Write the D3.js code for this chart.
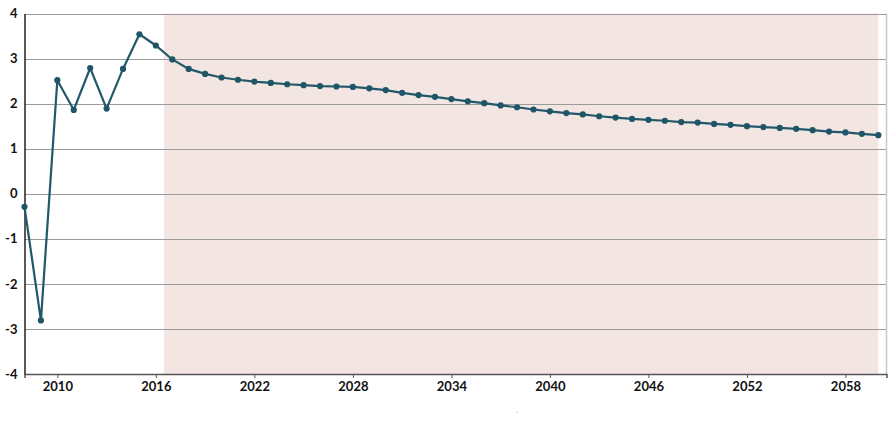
<!DOCTYPE html>
<html><head><meta charset="utf-8">
<script src="https://cdn.jsdelivr.net/npm/d3@7"></script>
<style>body{margin:0;background:#fff;} svg{display:block;}</style>
</head><body>
<svg id="chart" width="895" height="428"></svg>
<script>
const years = d3.range(2008, 2061);
const values = [
  -0.29, -2.81, 2.52, 1.86, 2.79, 1.89, 2.77, 3.54, 3.29, 2.98,
  2.77, 2.66, 2.58, 2.53, 2.49, 2.46, 2.43, 2.41, 2.39, 2.38,
  2.37, 2.34, 2.30, 2.24, 2.19, 2.15, 2.10, 2.05, 2.01, 1.96,
  1.92, 1.87, 1.83, 1.79, 1.76, 1.72, 1.69, 1.66, 1.64, 1.62,
  1.59, 1.58, 1.55, 1.53, 1.50, 1.48, 1.46, 1.44, 1.41, 1.38,
  1.36, 1.33, 1.30
];
const xTicks = [2010, 2016, 2022, 2028, 2034, 2040, 2046, 2052, 2058];
const yTicks = [-4, -3, -2, -1, 0, 1, 2, 3, 4];
const forecastStart = 2016.5, forecastEnd = 2060;

const svg = d3.select("#chart");
const mLeft = 24.5, mRight = 886.5, mTop = 13.5, mBottom = 374;
const x = d3.scaleLinear().domain([2008, 2060.5]).range([mLeft, mRight]);
const y = d3.scaleLinear().domain([-4, 4]).range([mBottom, mTop]);

// forecast shading
svg.append("rect")
  .attr("x", x(forecastStart)).attr("y", y(4))
  .attr("width", x(forecastEnd) - x(forecastStart))
  .attr("height", y(-4) - y(4))
  .attr("fill", "#f3e5e2");

// gridlines
svg.append("g").selectAll("line").data(yTicks.filter(d => d > -4)).join("line")
  .attr("x1", mLeft).attr("x2", mRight)
  .attr("y1", d => Math.round(y(d)) + 0.5).attr("y2", d => Math.round(y(d)) + 0.5)
  .attr("stroke", "#9a9a9a").attr("stroke-width", 1);

// right border
svg.append("line").attr("x1", mRight).attr("x2", mRight)
  .attr("y1", y(4)).attr("y2", y(-4))
  .attr("stroke", "#c8c8c8").attr("stroke-width", 1.5);

const fontFam = "Lato, 'Open Sans', sans-serif";

// x axis
const xAxis = svg.append("g").attr("transform", `translate(0,${mBottom})`)
  .call(d3.axisBottom(x).tickValues(xTicks).tickFormat(d => String(d)).tickSize(4).tickPadding(4));
xAxis.select(".domain").attr("stroke", "#555").attr("stroke-width", 1.5);
xAxis.selectAll(".tick line").attr("stroke", "#555");
xAxis.selectAll("text").attr("font-family", fontFam)
  .attr("font-weight", "bold").attr("font-size", 13).attr("fill", "#111");

// y axis
const yAxis = svg.append("g").attr("transform", `translate(${mLeft},0)`)
  .call(d3.axisLeft(y).tickValues(yTicks).tickFormat(d => String(d)).tickSize(0).tickPadding(7));
yAxis.select(".domain").attr("stroke", "#222").attr("stroke-width", 1.5);
yAxis.selectAll("text").attr("font-family", fontFam)
  .attr("font-weight", "bold").attr("font-size", 13).attr("fill", "#111");

// line + markers
const data = years.map((yr, i) => ({yr, v: values[i]}));
svg.append("path").datum(data)
  .attr("fill", "none").attr("stroke", "#21586a").attr("stroke-width", 2.2)
  .attr("d", d3.line().x(d => x(d.yr)).y(d => y(d.v)));
svg.append("g").selectAll("circle").data(data).join("circle")
  .attr("cx", d => x(d.yr)).attr("cy", d => y(d.v)).attr("r", 3.1)
  .attr("fill", "#1f5566");

// tiny axis title mark
svg.append("text").attr("x", 517).attr("y", 413).attr("text-anchor", "middle")
  .attr("font-family", "Lato, sans-serif").attr("font-size", 5).attr("fill", "#1f3f7a").text(".");
</script>
</body></html>
